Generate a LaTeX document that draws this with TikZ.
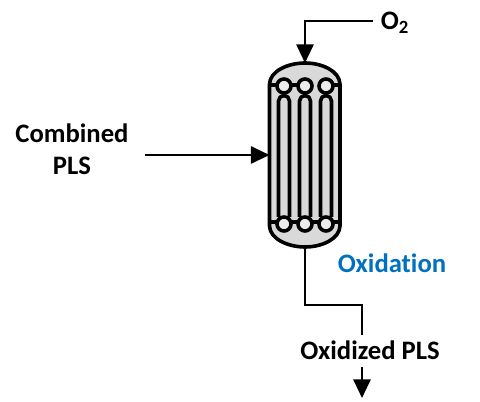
\documentclass[tikz,border=0pt]{standalone}
\usepackage{fontspec}
\setmainfont[Ligatures=NoCommon]{Carlito}
\usetikzlibrary{arrows.meta}
\definecolor{vesselfill}{RGB}{217,217,217}
\definecolor{oxblue}{RGB}{0,112,192}
\begin{document}
\begin{tikzpicture}[x=0.75pt,y=-0.75pt,
  vline/.style={draw=black,line width=2.7pt,line join=round},
  conn/.style={draw=black,line width=1.5pt,-{Triangle[length=14pt,width=13pt]}},
  plainconn/.style={draw=black,line width=1.5pt},
  lab/.style={font=\bfseries\fontsize{20}{24}\selectfont,inner sep=0pt,align=center,text=black},
  ring/.style={circle,draw=black,line width=2.7pt,fill=vesselfill!50!white,minimum size=10.5pt,inner sep=0pt}]
\useasboundingbox (0,0) rectangle (480,402);
% labels
\node[lab] (o2) at (395,23) {O\textsubscript{2}};
\node[lab] (pls) at (72,149) {Combined\\PLS};
\node[lab,text=oxblue] (oxi) at (392,263) {Oxidation};
\node[lab] (out) at (370,350) {Oxidized PLS};
% vessel
\coordinate (vt) at (305,63);
\coordinate (vb) at (305,247);
\coordinate (vl) at (269.5,155);
\path[vline,fill=vesselfill] (269.5,84) .. controls (270,71) and (288,63) .. (305,63)
  .. controls (322,63) and (339.5,71) .. (340,84) -- (340,226)
  .. controls (339.5,239) and (322,247) .. (305,247)
  .. controls (288,247) and (270,239) .. (269.5,226) -- cycle;
% tubes
\foreach \x/\n in {284/a,305/b,326/c}{
  \draw[vline] ({\x-5.5},217) -- ({\x-5.5},101)
     arc[start angle=180,end angle=360,radius=5.5] -- ({\x+5.5},217);
}
\draw[vline] (269.5,85) -- (305,85) (326,85) -- (340,85);
\draw[vline] (269.5,222) -- (340,222);
\foreach \x/\n in {284/a,305/b,326/c}{
  \node[ring] (t\n) at (\x,86) {};
  \node[ring] (b\n) at (\x,224) {};
}
% connectors
\coordinate (o2c) at (305,21);
\coordinate (o2s) at (373,21);
\draw[conn] (o2s) -- (o2c) -- (vt);
\coordinate (plse) at (145,155);
\draw[conn] (plse) -- (vl);
\coordinate (d1) at (305,305);
\coordinate (d2) at (362,305);
\coordinate (oute) at (362,335);
\draw[plainconn] (vb) -- (d1) -- (d2) -- (oute);
\coordinate (outs) at (362,367);
\coordinate (oute2) at (362,398);
\draw[conn] (outs) -- (oute2);
\end{tikzpicture}
\end{document}
